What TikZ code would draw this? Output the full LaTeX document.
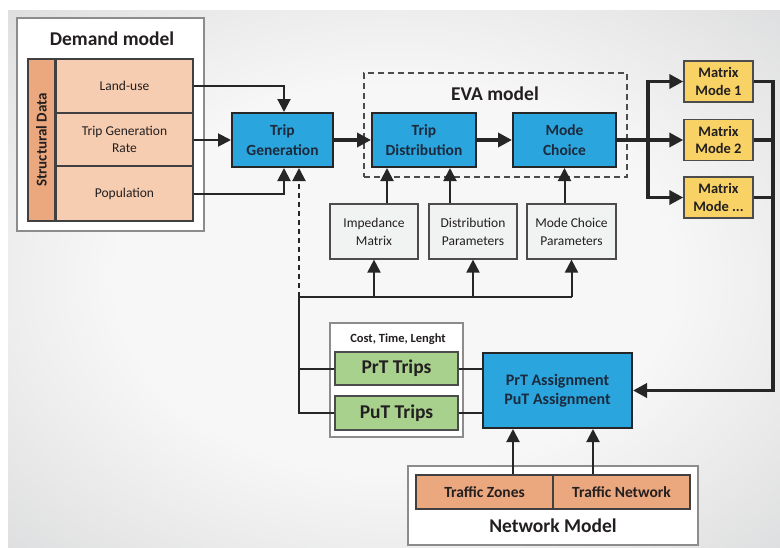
\documentclass[tikz,border=0pt]{standalone}
\usepackage{fontspec}
\setmainfont{Carlito}
\usetikzlibrary{arrows.meta}
\definecolor{cblue}{HTML}{2AA5DE}
\definecolor{cnavy}{HTML}{1C2A3C}
\definecolor{cpeach}{HTML}{F6CDB0}
\definecolor{cbar}{HTML}{EBA77E}
\definecolor{cyellow}{HTML}{F8D264}
\definecolor{cgreen}{HTML}{A9D18E}
\definecolor{cpar}{HTML}{F1F2F2}
\definecolor{ctext}{HTML}{231F20}
\definecolor{bgA}{HTML}{F7F7F7}
\definecolor{bgB}{HTML}{CACBCD}
\pgfdeclareradialshading{bgshade}{\pgfpoint{0bp}{0bp}}{color(0bp)=(bgA); color(18bp)=(bgA); color(50bp)=(bgB); color(60bp)=(bgB)}
\tikzset{
  base/.style={inner sep=0pt, align=center, text=ctext},
  whitebox/.style={base, draw=black!45, line width=1.2pt, fill=white},
  bluebox/.style={base, draw=black!85, line width=2pt, fill=cblue, text=cnavy, font=\bfseries\fontsize{15.5}{20}\selectfont},
  rowbox/.style={base, draw=black!75, line width=1.2pt, fill=cpeach, font=\fontsize{13.5}{17.7}\selectfont, minimum width=137pt},
  barbox/.style={base, draw=black!75, line width=1.2pt, fill=cbar, font=\bfseries\fontsize{15}{17}\selectfont},
  parbox/.style={base, draw=black!70, line width=1.2pt, fill=cpar, font=\fontsize{13.5}{18}\selectfont, minimum height=55pt},
  matbox/.style={base, draw=black!70, line width=1.4pt, fill=cyellow, font=\bfseries\fontsize{14.5}{17.7}\selectfont, minimum width=69pt, minimum height=41pt},
  greenbox/.style={base, draw=black!70, line width=1.4pt, fill=cgreen, font=\bfseries\fontsize{19.5}{22}\selectfont, minimum width=123pt, minimum height=33pt},
  netbox/.style={base, draw=black!75, line width=1.4pt, fill=cbar, font=\bfseries\fontsize{15.5}{18}\selectfont, minimum width=137pt, minimum height=34pt},
  title/.style={base, font=\bfseries\fontsize{19.5}{22}\selectfont},
  conn/.style={draw=black!85, line width=2pt},
  arr/.style={conn, -{Triangle[length=13pt,width=13pt]}},
  tconn/.style={draw=black!85, line width=3.6pt},
  tarr/.style={tconn, -{Triangle[length=14pt,width=14pt]}}
}
\begin{document}
\begin{tikzpicture}[x=1pt,y=-1pt]
\useasboundingbox (0,0) rectangle (780,547);
\shade[shading=bgshade] (8,10) rectangle (780,547);

% Demand model
\node[whitebox, minimum width=187pt, minimum height=213pt] (dm) at (110.5,124.5) {};
\node[title] (dmt) at (112,39) {Demand model};
\node[barbox, rotate=90, minimum width=162pt, minimum height=27pt] (sd) at (41.5,140) {Structural Data};
\node[rowbox, minimum height=54pt] (lu) at (124.5,86) {Land-use};
\node[rowbox, minimum height=53pt] (tgr) at (124.5,139.5) {Trip Generation\\Rate};
\node[rowbox, minimum height=55pt] (pop) at (124.5,193.5) {Population};

% EVA model
\node[draw=black!70, line width=1.3pt, dash pattern=on 6pt off 4pt, minimum width=263pt, minimum height=104pt, inner sep=0pt] (eva) at (495.5,125) {};
\node[title] (evat) at (495,94) {EVA model};

% blue boxes
\node[bluebox, minimum width=101pt, minimum height=54pt] (tg) at (282.5,140) {Trip\\Generation};
\node[bluebox, minimum width=104pt, minimum height=54pt] (tdist) at (424,140) {Trip\\Distribution};
\node[bluebox, minimum width=103pt, minimum height=54pt] (mc) at (564.5,140) {Mode\\Choice};

% parameter boxes
\node[parbox, minimum width=88pt] (imp) at (374,231.5) {Impedance\\Matrix};
\node[parbox, minimum width=88pt] (dpar) at (473,231.5) {Distribution\\Parameters};
\node[parbox, minimum width=89pt] (mcpar) at (571.5,231.5) {Mode Choice\\Parameters};

% matrix boxes
\node[matbox] (m1) at (718.5,81.5) {Matrix\\Mode 1};
\node[matbox] (m2) at (718.5,140) {Matrix\\Mode 2};
\node[matbox] (m3) at (718.5,197.5) {Matrix\\Mode ...};

% trips
\node[whitebox, minimum width=133pt, minimum height=114pt] (cbox) at (396.5,380) {};
\node[base, font=\bfseries\fontsize{12.5}{14}\selectfont] (ctl) at (398,339) {Cost, Time, Lenght};
\node[greenbox] (prt) at (396.5,368.5) {PrT Trips};
\node[greenbox, minimum height=34pt] (put) at (396.5,413) {PuT Trips};
\node[bluebox, minimum width=149pt, minimum height=75pt, font=\bfseries\fontsize{16}{19.5}\selectfont] (asg) at (557.5,390.5) {PrT Assignment\\PuT Assignment};

% network model
\node[whitebox, minimum width=290pt, minimum height=79pt] (nm) at (553,505.5) {};
\node[netbox] (tz) at (484.5,492) {Traffic Zones};
\node[netbox] (tn) at (621.5,492) {Traffic Network};
\node[title] (nmt) at (553,526) {Network Model};

% demand connectors
\draw[arr] (lu.east) -| ([xshift=1.5pt]tg.north);
\draw[arr] (pop.east) -| ([xshift=1.5pt]tg.south);
\draw[arr] (tg.west -| tgr.east) -- (tg.west);

% main flow
\draw[tarr] (tg.east) -- (tdist.west);
\draw[tarr] (tdist.east) -- (mc.west);
\coordinate (sp) at (648,140);
\draw[tconn] (mc.east) -- (sp);
\draw[tarr] (sp) |- (m1.west);
\draw[tarr] (sp) -- (m2.west);
\draw[tarr] (sp) |- (m3.west);

% return to assignment
\coordinate (rt) at (773,81.5);
\draw[tarr, line join=miter] (m1.east) -| (rt |- asg.east) -- (asg.east);
\draw[tconn] (m2.east) -- (m2.east -| rt);
\draw[tconn] (m3.east) -- (m3.east -| rt);

% parameters to EVA
\draw[arr] ([xshift=13pt]imp.north) -- ([xshift=13pt]imp.north |- tdist.south);
\draw[arr] ([xshift=-23pt]dpar.north) -- ([xshift=-23pt]dpar.north |- tdist.south);
\draw[arr] (mcpar.north -| mc.south) -- (mc.south);

% bus from trips
\coordinate (j) at (299,296.5);
\draw[conn] (j) -- (j -| mcpar.south);
\draw[arr] (j -| imp.south) -- (imp.south);
\draw[arr] (j -| dpar.south) -- (dpar.south);
\draw[arr] (j -| mcpar.south) -- (mcpar.south);
\draw[arr, dash pattern=on 5pt off 4pt] (j) -- (j |- tg.south);
\draw[conn] (j) |- (put.west);
\draw[conn] (j |- prt.west) -- (prt.west);
\draw[conn] (prt.east) -- (prt.east -| asg.west);
\draw[conn] (put.east) -- (put.east -| asg.west);

% network to assignment
\draw[arr] ([xshift=28.5pt]tz.north) -- ([xshift=28.5pt]tz.north |- asg.south);
\draw[arr] ([xshift=-28.5pt]tn.north) -- ([xshift=-28.5pt]tn.north |- asg.south);
\end{tikzpicture}
\end{document}
